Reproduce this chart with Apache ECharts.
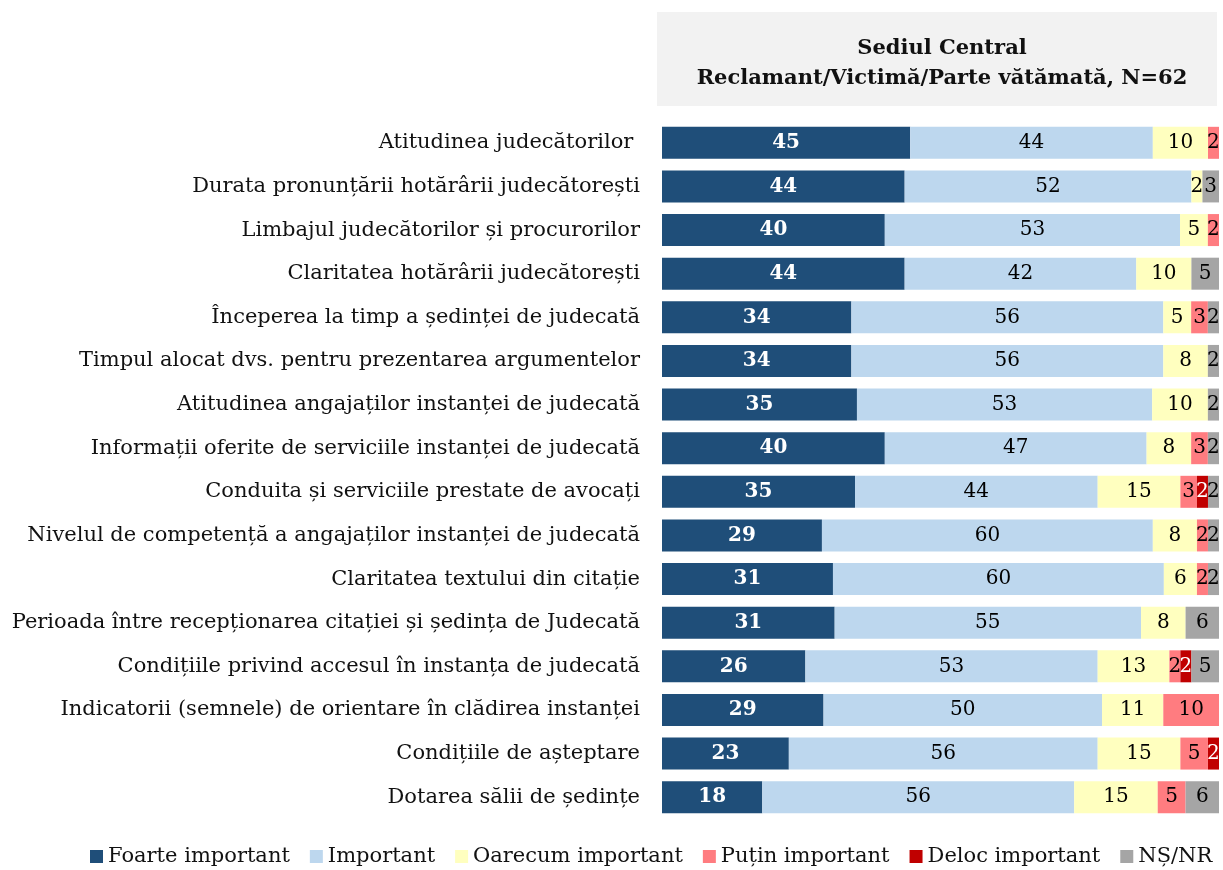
<!DOCTYPE html>
<html><head><meta charset="utf-8">
<script src="https://cdn.jsdelivr.net/npm/echarts@6/dist/echarts.min.js"></script>
<style>html,body{margin:0;padding:0;background:#fff}#c{width:1223px;height:870px}</style>
</head><body><div id="c"></div>
<script>
const categories = [
 "Atitudinea judecătorilor ",
 "Durata pronunțării hotărârii judecătorești",
 "Limbajul judecătorilor și procurorilor",
 "Claritatea hotărârii judecătorești",
 "Începerea la timp a ședinței de judecată",
 "Timpul alocat dvs. pentru prezentarea argumentelor",
 "Atitudinea angajaților instanței de judecată",
 "Informații oferite de serviciile instanței de judecată",
 "Conduita și serviciile prestate de avocați",
 "Nivelul de competență a angajaților instanței de judecată",
 "Claritatea textului din citație",
 "Perioada între recepționarea citației și ședința de Judecată",
 "Condițiile privind accesul în instanța de judecată",
 "Indicatorii (semnele) de orientare în clădirea instanței",
 "Condițiile de așteptare",
 "Dotarea sălii de ședințe"
];
const seriesNames = ["Foarte important","Important","Oarecum important","Puțin important","Deloc important","NȘ/NR"];
const foarte  = [45,44,40,44,34,34,35,40,35,29,31,31,26,29,23,18];
const important = [44,52,53,42,56,56,53,47,44,60,60,55,53,50,56,56];
const oarecum = [10,2,5,10,5,8,10,8,15,8,6,8,13,11,15,15];
const putin   = [2,0,2,0,3,0,0,3,3,2,2,0,2,10,5,5];
const deloc   = [0,0,0,0,0,0,0,0,2,0,0,0,2,0,2,0];
const nsnr    = [0,3,0,5,2,2,2,2,2,2,2,6,5,0,0,6];
const titleLines = ["Sediul Central","Reclamant/Victimă/Parte vătămată, N=62"];

const colors = ["#1f4e79","#bdd7ee","#ffffbf","#ff7c80","#c00000","#a5a5a5"];
const labelColors = ["#ffffff","#000000","#000000","#000000","#ffffff","#000000"];
const all = [foarte, important, oarecum, putin, deloc, nsnr];
const totals = categories.map((_, i) => all.reduce((s, a) => s + a[i], 0));

const FONT = "DejaVu Serif";
const series = all.map((arr, k) => ({
  name: seriesNames[k], type: 'bar', stack: 'total', barWidth: 32,
  itemStyle: { color: colors[k] },
  data: arr.map((v, i) => ({ value: v === 0 ? null : v * 100 / totals[i], raw: v })),
  label: {
    show: true, position: 'inside',
    color: labelColors[k], fontFamily: FONT, fontSize: 20,
    fontWeight: k === 0 ? 'bold' : 'normal',
    formatter: p => p.data && p.data.raw ? String(p.data.raw) : ''
  }
}));

const chart = echarts.init(document.getElementById('c'));
chart.setOption({
  animation: false,
  backgroundColor: '#fff',
  graphic: [
    { type: 'rect', left: 657, top: 12, shape: { width: 560, height: 94 }, style: { fill: '#f2f2f2' }, z: -1 }
  ],
  title: {
    text: titleLines.join('\n'),
    left: 937, top: 29, textAlign: 'center',
    textStyle: { fontFamily: FONT, fontWeight: 'bold', fontSize: 21, lineHeight: 30, color: '#111' }
  },
  legend: {
    bottom: -2, left: 85, itemWidth: 13, itemHeight: 13, itemGap: 20,
    icon: 'rect',
    textStyle: { fontFamily: FONT, fontSize: 21, color: '#111' },
    data: seriesNames
  },
  grid: { left: 662, right: 4, top: 121, bottom: 51, containLabel: false },
  xAxis: { type: 'value', min: 0, max: 100, show: false },
  yAxis: {
    type: 'category', data: categories, inverse: true,
    axisLine: { show: false }, axisTick: { show: false },
    axisLabel: { fontFamily: FONT, fontSize: 21, color: '#111', margin: 22 }
  },
  series
});
</script></body></html>
